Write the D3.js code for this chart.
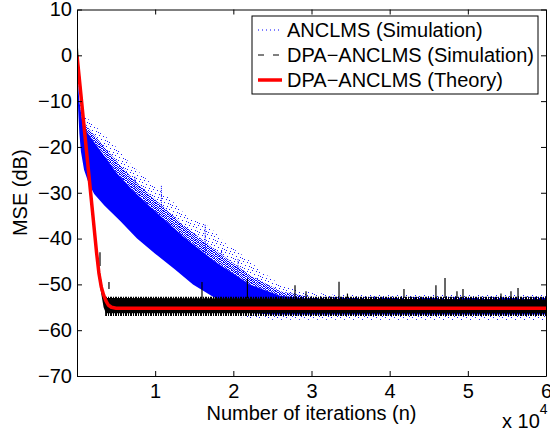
<!DOCTYPE html>
<html>
<head>
<meta charset="utf-8">
<script src="https://cdn.jsdelivr.net/npm/d3@7"></script>
<style>
body { margin: 0; background: #fff; }
svg { display: block; font-family: "Liberation Sans", Arial, Helvetica, sans-serif; }
</style>
</head>
<body>
<div id="chart"></div>
<script>
// values: n = iteration index, values in dB
var xTicks = [10000, 20000, 30000, 40000, 50000, 60000];
var yTicks = [10, 0, -10, -20, -30, -40, -50, -60, -70];
var legendLabels = ["ANCLMS (Simulation)", "DPA\u2212ANCLMS (Simulation)", "DPA\u2212ANCLMS (Theory)"];

// ANCLMS (Simulation) - dense body of the blue cloud
var anclmsTopN = [0, 300, 770, 2000, 3500, 5000, 7160, 9340, 13560, 17650, 22130, 26000, 30000, 60000];
var anclmsTopV = [-3, -10, -15.5, -18.5, -22, -25.5, -29.5, -33, -39.5, -45, -50, -52.5, -53.2, -53.2];
var anclmsMidV = [-3, -10, -14.5, -17, -20, -23, -27, -30.5, -37, -42.5, -48, -51.5, -52.8, -52.8];
var anclmsBotN = [0, 150, 300, 500, 900, 1500, 2200, 3500, 5500, 7680, 10000, 12500, 14840, 17500, 20000, 22500, 25000, 60000];
var anclmsBotV = [-4, -12, -17, -21, -25, -28, -30.3, -32.8, -36.1, -40, -43.3, -46.7, -50, -52.8, -55, -56.3, -56.6, -56.6];
// sparse points above the dense body
var anclmsScatN = [300, 800, 1500, 3000, 5000, 7000, 9500, 12000, 14000, 17000, 19000, 21500, 23500, 26000, 29000, 33000, 60000];
var anclmsScatV = [-9, -13, -14, -16.5, -20, -24, -28, -31.5, -35, -37.5, -41, -44, -47, -50, -51.5, -52.3, -52.3];
// sparse points under the floor
var anclmsLowN = [21000, 25000, 60000];
var anclmsLowTop = [-56.8, -56.8, -56.8];
var anclmsLowV = [-57.2, -57.7, -57.8];
// vertical streaks above the cloud
var streakN   = [7400, 10800, 16400, 18500, 20600];
var streakTop = [-26.5, -28.5, -37, -42.5, -44.5];
var streakBot = [-29.5, -33, -44, -46, -48];

// DPA-ANCLMS (Simulation) - black band
var dpaTopN = [0, 250, 700, 1300, 2000, 2600, 3000, 3500, 60000];
var dpaTopV = [5.5, -2, -10, -21, -33, -43, -48, -53, -53.3];
var dpaBotN = [0, 250, 700, 1300, 2000, 2600, 3000, 3400, 3700, 60000];
var dpaBotV = [-1, -5, -13, -24, -36, -46, -51, -55, -56.3, -56.3];
var dpaFringeN = [3600, 60000];
var dpaFringeUp = [-52.7, -52.7];
var dpaFringeDn = [-56.9, -56.9];
var spikeN   = [2940, 4090, 15990, 21800, 27890, 29300, 33520, 34600, 41830, 45920, 47080, 48610, 49380, 54240, 55520, 56420];
var spikeTop = [-43, -49.5, -49.5, -48.8, -50.2, -51.5, -49.4, -52, -51, -50.2, -48.6, -51.5, -51, -52, -51.5, -50.8];
var spikeBot = [-46, -51, -53, -53, -53, -53, -53, -53, -53, -53, -53, -53, -53, -53, -53, -53];

// DPA-ANCLMS (Theory)
var theoryN = [0, 500, 1000, 1500, 2000, 2500, 2800, 3100, 3400, 3700, 4000, 4400, 5000, 60000];
var theoryV = [0, -8.6, -17.2, -25.8, -34.4, -43, -47.5, -50.5, -52.3, -53.6, -54.5, -55, -55.2, -55.2];

var W = 550, H = 433;
var pL = 77, pR = 546, pT = 9.5, pB = 376;

var svg = d3.select("#chart")
  .append("svg")
    .attr("width", W)
    .attr("height", H);

var x = d3.scaleLinear().domain([0, 60000]).range([pL, pR]);
var y = d3.scaleLinear().domain([-70, 10]).range([pB, pT]);

var defs = svg.append("defs");
defs.append("clipPath").attr("id", "plotclip")
  .append("rect")
    .attr("x", pL).attr("y", pT)
    .attr("width", pR - pL).attr("height", pB - pT);

// speckle textures for the point clouds
function speckle(id, size, cells, color) {
  var p = defs.append("pattern").attr("id", id)
    .attr("patternUnits", "userSpaceOnUse").attr("width", size).attr("height", size);
  cells.forEach(function(c) {
    p.append("rect").attr("x", c[0]).attr("y", c[1]).attr("width", 1).attr("height", 1).attr("fill", color);
  });
}
speckle("sparse", 9, [[0, 0], [4, 1], [7, 2], [2, 4], [6, 5], [1, 7], [5, 8], [8, 6]], "#1a1aff");
speckle("halfdense", 8, [
  [0, 0], [2, 0], [3, 0], [5, 0], [7, 0],
  [1, 1], [4, 1], [6, 1],
  [0, 2], [2, 2], [3, 2], [5, 2], [6, 2],
  [1, 3], [3, 3], [4, 3], [7, 3],
  [0, 4], [2, 4], [5, 4], [6, 4],
  [1, 5], [3, 5], [4, 5], [7, 5],
  [0, 6], [2, 6], [5, 6], [7, 6],
  [1, 7], [3, 7], [4, 7], [6, 7]
], "#0000ff");

var comb = defs.append("pattern").attr("id", "blackcomb")
  .attr("patternUnits", "userSpaceOnUse").attr("width", 5).attr("height", 2);
[0, 1, 3].forEach(function(px) {
  comb.append("rect").attr("x", px).attr("y", 0).attr("width", 1).attr("height", 2).attr("fill", "#000");
});

var line = d3.line()
  .x(function(d) { return x(d[0]); })
  .y(function(d) { return y(d[1]); });

function pts(ns, vs) {
  return ns.map(function(n, i) { return [n, vs[i]]; });
}
// closed shape: upper edge left to right, lower edge back again
function band(upN, upV, dnN, dnV) {
  return line(pts(upN, upV).concat(pts(dnN, dnV).reverse())) + "Z";
}

var plot = svg.append("g").attr("clip-path", "url(#plotclip)");

// blue cloud
plot.append("path")
  .attr("d", band(anclmsScatN, anclmsScatV, anclmsTopN, anclmsMidV))
  .attr("fill", "url(#sparse)");
plot.selectAll("line.streak")
  .data(streakN)
  .enter().append("line")
    .attr("class", "streak")
    .attr("x1", function(d) { return x(d); })
    .attr("x2", function(d) { return x(d); })
    .attr("y1", function(d, i) { return y(streakTop[i]); })
    .attr("y2", function(d, i) { return y(streakBot[i]); })
    .attr("stroke", "#0000ff")
    .attr("stroke-width", 1)
    .attr("stroke-dasharray", "1,1");
plot.append("path")
  .attr("d", band(anclmsTopN, anclmsMidV, anclmsTopN, anclmsTopV))
  .attr("fill", "url(#halfdense)");
plot.append("path")
  .attr("d", band(anclmsTopN, anclmsTopV, anclmsBotN, anclmsBotV))
  .attr("fill", "#0000ff");
plot.append("path")
  .attr("d", band(anclmsLowN, anclmsLowTop, anclmsLowN, anclmsLowV))
  .attr("fill", "url(#sparse)");

// black band
plot.append("path")
  .attr("d", band(dpaFringeN, dpaFringeUp, dpaFringeN, dpaFringeDn))
  .attr("fill", "url(#blackcomb)");
plot.append("path")
  .attr("d", band(dpaTopN, dpaTopV, dpaBotN, dpaBotV))
  .attr("fill", "#000");
plot.selectAll("line.spike")
  .data(spikeN)
  .enter().append("line")
    .attr("class", "spike")
    .attr("x1", function(d) { return x(d); })
    .attr("x2", function(d) { return x(d); })
    .attr("y1", function(d, i) { return y(spikeTop[i]); })
    .attr("y2", function(d, i) { return y(spikeBot[i]); })
    .attr("stroke", "#000")
    .attr("stroke-width", 1.2);

// theory curve
plot.append("path")
  .attr("d", line(pts(theoryN, theoryV)))
  .attr("fill", "none")
  .attr("stroke", "#ff0000")
  .attr("stroke-width", 3.5)
  .attr("stroke-linejoin", "round");

// axes, ticks pointing inward on all four sides
var fmtX = function(d) { return d / 10000; };
var gx = svg.append("g").attr("transform", "translate(0," + pB + ")")
  .call(d3.axisBottom(x).tickValues(xTicks).tickFormat(fmtX).tickSize(-5).tickSizeOuter(0).tickPadding(8));
var gxt = svg.append("g").attr("transform", "translate(0," + pT + ")")
  .call(d3.axisTop(x).tickValues(xTicks).tickFormat("").tickSize(-5).tickSizeOuter(0));
var gy = svg.append("g").attr("transform", "translate(" + pL + ",0)")
  .call(d3.axisLeft(y).tickValues(yTicks).tickSize(-5).tickSizeOuter(0).tickPadding(5));
var gyr = svg.append("g").attr("transform", "translate(" + pR + ",0)")
  .call(d3.axisRight(y).tickValues(yTicks).tickFormat("").tickSize(-5).tickSizeOuter(0));

[gx, gxt, gy, gyr].forEach(function(g) {
  g.select(".domain").attr("stroke", "#000").attr("stroke-width", 1);
  g.selectAll(".tick line").attr("stroke", "#000");
  g.selectAll("text")
    .attr("fill", "#000")
    .style("font-size", "20px")
    .style("font-family", "\"Liberation Sans\", Arial, Helvetica, sans-serif");
});

svg.append("text")
  .attr("x", (pL + pR) / 2)
  .attr("y", 420)
  .attr("text-anchor", "middle")
  .style("font-size", "20px")
  .text("Number of iterations (n)");

var mult = svg.append("text")
  .attr("x", 502)
  .attr("y", 428)
  .style("font-size", "20px");
mult.append("tspan").text("x 10");
mult.append("tspan").attr("dy", -14).style("font-size", "14px").text("4");

svg.append("text")
  .attr("transform", "translate(27," + ((pT + pB) / 2) + ") rotate(-90)")
  .attr("text-anchor", "middle")
  .style("font-size", "20px")
  .text("MSE (dB)");

// legend
var lg = svg.append("g");
lg.append("rect")
  .attr("x", 252).attr("y", 16)
  .attr("width", 538 - 252).attr("height", 94 - 16)
  .attr("fill", "#fff")
  .attr("stroke", "#000")
  .attr("stroke-width", 1);
var legendStyle = [
  {stroke: "#0000ff", width: 1, dash: "1,3"},
  {stroke: "#000", width: 1, dash: "6,9"},
  {stroke: "#ff0000", width: 3.5, dash: null}
];
legendLabels.forEach(function(lbl, i) {
  var cy = 30 + i * 25;
  lg.append("line")
    .attr("x1", 258).attr("x2", 282)
    .attr("y1", cy).attr("y2", cy)
    .attr("stroke", legendStyle[i].stroke)
    .attr("stroke-width", legendStyle[i].width)
    .attr("stroke-dasharray", legendStyle[i].dash);
  lg.append("text")
    .attr("x", 287).attr("y", cy + 7)
    .style("font-size", "20px")
    .text(lbl);
});
</script>
</body>
</html>
